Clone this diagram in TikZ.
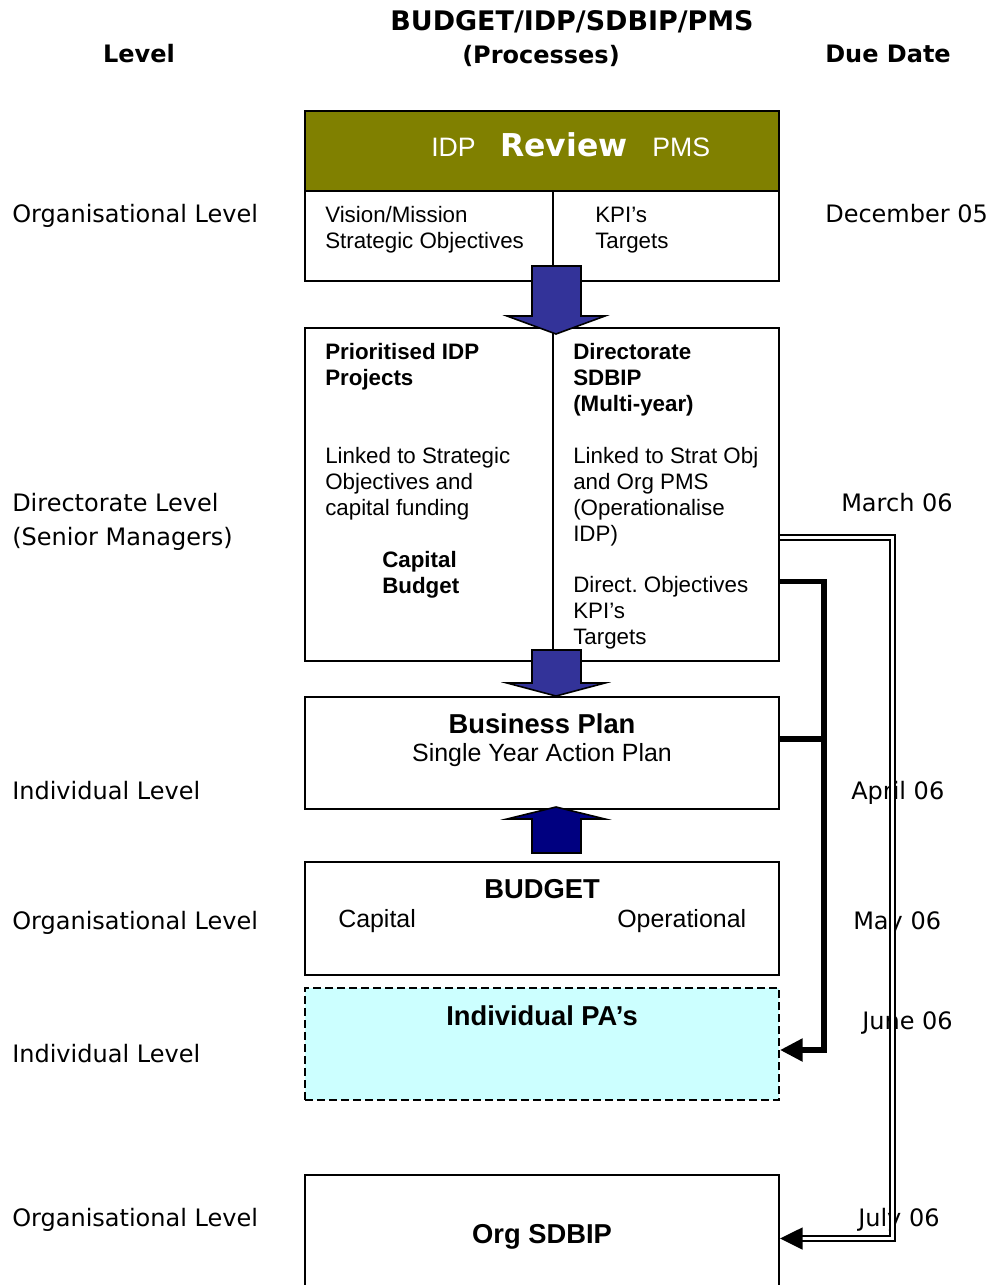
\documentclass[tikz,border=0pt]{standalone}
\usepackage{fontspec}
\usepackage{tikz}
\usetikzlibrary{arrows.meta}
\newfontfamily\arialfont{Liberation Sans}
\newfontfamily\verdfont{DejaVu Sans}
\definecolor{reviewolive}{HTML}{808000}
\definecolor{arrowblue}{HTML}{333399}
\definecolor{arrownavy}{HTML}{000080}
\definecolor{pafill}{HTML}{CCFFFF}
\frenchspacing

\tikzset{
  level/.style={font=\verdfont\fontsize{18}{24}\selectfont, anchor=base west, inner sep=0pt},
  colhead/.style={font=\verdfont\bfseries\fontsize{18}{24}\selectfont, anchor=base, inner sep=0pt},
  procbox/.style={draw, line width=1.5pt, minimum width=355.5pt, inner sep=0pt},
  boxtxt/.style={font=\arialfont\fontsize{16.75}{19.3}\selectfont, align=left, anchor=base west, inner sep=0pt},
  boldtxt/.style={boxtxt, font=\arialfont\bfseries\fontsize{16.75}{19.3}\selectfont},
  boxhead/.style={font=\arialfont\bfseries\fontsize{20.5}{24}\selectfont, anchor=base, inner sep=0pt},
  boxsub/.style={font=\arialfont\fontsize{18.7}{24}\selectfont, inner sep=0pt},
  blockarrow/.style={draw=black, line width=1.2pt, line join=miter},
  thickconn/.style={line width=4pt, -{Triangle[length=17pt,width=16.5pt]}},
  dblconn/.style={double, line width=1.2pt, double distance=2.4pt, -{Triangle[length=17pt,width=16.5pt]}}
}

\begin{document}
\begin{tikzpicture}[x=0.75pt,y=-0.75pt]
\useasboundingbox (0,0) rectangle (989,1285);
\clip (0,0) rectangle (989,1285);

% column headings
\node[colhead] (hlevel) at (139,62) {Level};
\node[colhead, font=\verdfont\bfseries\fontsize{20.2}{24}\selectfont] (hproc1) at (572,30) {BUDGET/IDP/SDBIP/PMS};
\node[colhead] (hproc2) at (541,63) {(Processes)};
\node[colhead] (hdue) at (888,62) {Due Date};

% levels
\node[level] (lv1) at (12,222) {Organisational Level};
\node[level] (lv2) at (12,511) {Directorate Level};
\node[level] (lv2b) at (12,545) {(Senior Managers)};
\node[level] (lv3) at (12,799) {Individual Level};
\node[level] (lv4) at (12,929) {Organisational Level};
\node[level] (lv5) at (12,1062) {Individual Level};
\node[level] (lv6) at (12,1226) {Organisational Level};

% due dates
\node[level] (d1) at (825,222) {December 05};
\node[level] (d2) at (841,511) {March 06};
\node[level] (d3) at (851,799) {April 06};
\node[level] (d4) at (853,929) {May 06};
\node[level] (d5) at (862,1029) {June 06};
\node[level] (d6) at (858,1226) {July 06};

% review box
\node[procbox, minimum height=127.5pt] (review) at (542,196) {};
\node[procbox, fill=reviewolive, minimum height=60pt] (band) at (542,151) {};
\draw[line width=1.5pt] (553,191) -- (553,281);
\node[font=\arialfont\fontsize{20}{24}\selectfont, text=white, anchor=base west, inner sep=0pt] (ridp) at (431,156) {IDP};
\node[font=\verdfont\bfseries\fontsize{23.6}{28}\selectfont, text=white, anchor=base west, inner sep=0pt] (rrev) at (500,156) {Review};
\node[font=\arialfont\fontsize{20}{24}\selectfont, text=white, anchor=base west, inner sep=0pt] (rpms) at (652,156) {PMS};
% (base of a multi-line node = last line)
\node[boxtxt] (vision) at (325,248) {Vision/Mission\\Strategic Objectives};
\node[boxtxt] (kpi) at (595,248) {KPI’s\\Targets};

% directorate box
\node[procbox, minimum height=249.75pt] (prio) at (542,494.5) {};
\draw[line width=1.5pt] (553,328) -- (553,661);
\node[boldtxt] (prio1) at (325,385) {Prioritised IDP\\Projects};
\node[boxtxt] (prio2) at (325,515) {Linked to Strategic\\Objectives and\\capital funding};
\node[boldtxt] (capbud) at (382,593) {Capital\\Budget};
\node[boldtxt] (sdbip1) at (573,411) {Directorate\\SDBIP\\(Multi-year)};
\node[boxtxt] (sdbip2) at (573,541) {Linked to Strat Obj\\and Org PMS\\(Operationalise\\IDP)};
\node[boxtxt] (sdbip3) at (573,644) {Direct. Objectives\\KPI’s\\Targets};

% business plan
\node[procbox, minimum height=84pt] (bplan) at (542,753) {};
\node[boxhead] (bplan1) at (542,733) {Business Plan};
\node[boxsub, anchor=base] (bplan2) at (542,761) {Single Year Action Plan};

% budget
\node[procbox, minimum height=84.75pt] (budget) at (542,918.5) {};
\node[boxhead] (budget1) at (542,898) {BUDGET};
\node[boxsub, anchor=base west] (budcap) at (338,927) {Capital};
\node[boxsub, anchor=base west] (budop) at (617,927) {Operational};

% individual PAs
\node[procbox, dash pattern=on 6pt off 3pt, fill=pafill, minimum height=84pt] (pas) at (542,1044) {};
\node[boxhead] (pas1) at (542,1025) {Individual PA’s};

% org SDBIP
\node[procbox, minimum height=108.75pt] (org) at (542,1247.5) {};
\node[boxhead] (org1) at (542,1243) {Org SDBIP};

% block arrows
\filldraw[blockarrow, fill=arrowblue] (532,266) -- (581,266) -- (581,316) -- (605,316) -- (556,334) -- (507,316) -- (532,316) -- cycle;
\filldraw[blockarrow, fill=arrowblue] (532,650) -- (581,650) -- (581,683) -- (605,683) -- (556,696) -- (507,683) -- (532,683) -- cycle;
\filldraw[blockarrow, fill=arrownavy] (532,853) -- (581,853) -- (581,819) -- (605,819) -- (556,807) -- (507,819) -- (532,819) -- cycle;

% connectors
\coordinate (tk) at (824,581.5);
\coordinate (tkend) at (824,1050);
\coordinate (bpj) at (824,739);
\draw[thickconn] (prio.east |- tk) -- (tk) -- (tkend) -- (pas.east |- tkend);
\draw[line width=4pt] (bplan.east |- bpj) -- (bpj);
\coordinate (db) at (892.5,537.5);
\coordinate (dbend) at (892.5,1238.5);
\draw[dblconn] (prio.east |- db) -- (db) -- (dbend) -- (org.east |- dbend);
\end{tikzpicture}
\end{document}
